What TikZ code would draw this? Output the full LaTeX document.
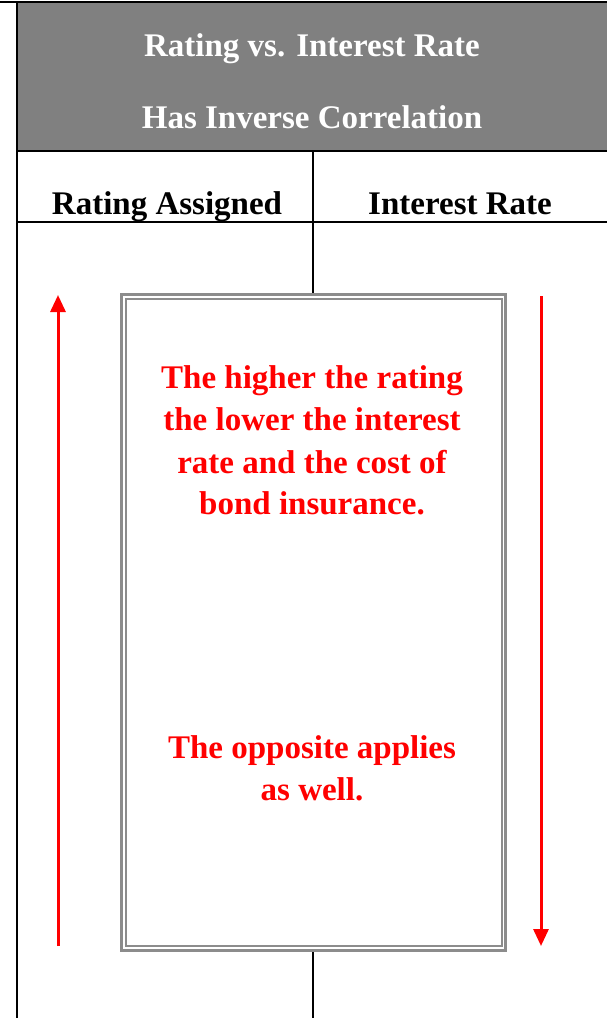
\documentclass[tikz,border=0pt]{standalone}
\usepackage{fontspec}
\setmainfont{Liberation Serif}
\usetikzlibrary{arrows.meta}
\definecolor{hdrgray}{HTML}{808080}
\definecolor{boxgray}{HTML}{8C8C8C}
\definecolor{txtred}{HTML}{FF0000}
\tikzset{
  rule/.style={line width=2pt, black},
  hdrtext/.style={font=\fontsize{33}{33}\selectfont\bfseries, text=white, inner sep=0pt, anchor=base},
  coltext/.style={font=\fontsize{33}{33}\selectfont\bfseries, text=black, inner sep=0pt, anchor=base},
  redtext/.style={font=\fontsize{33}{33}\selectfont\bfseries, text=txtred, inner sep=0pt, anchor=base},
  redarrow/.style={line width=3pt, txtred, -{Triangle[length=17pt,width=15pt]}},
}
\begin{document}
\begin{tikzpicture}[x=1pt,y=-1pt]
\useasboundingbox (0,0) rectangle (607,1018);
\fill[white] (0,0) rectangle (607,1018);
% header
\fill[hdrgray] (17,2) rectangle (607,151);
\draw[rule] (0,2) -- (607,2);
\draw[rule] (17,1) -- (17,1018);
\draw[rule] (17,151) -- (607,151);
\draw[rule] (17,222) -- (607,222);
\draw[rule] (313,151) -- (313,1018);
\node[hdrtext] (t1) at (312,56) {Rating vs. Interest Rate};
\node[hdrtext] (t2) at (312,128) {Has Inverse Correlation};
\node[coltext] (c1) at (167,214) {Rating Assigned};
\node[coltext] (c2) at (460,214) {Interest Rate};
% central box
\fill[white] (120,293) rectangle (507,952);
\draw[boxgray, line width=2.5pt] (121.5,294.5) rectangle (505.5,950.5);
\draw[boxgray, line width=2pt] (125.5,298.5) rectangle (501.5,945.5);
\node[redtext] (r1) at (312,388) {The higher the rating};
\node[redtext] (r2) at (312,430) {the lower the interest};
\node[redtext] (r3) at (312,473) {rate and the cost of};
\node[redtext] (r4) at (312,514) {bond insurance.};
\node[redtext] (r5) at (312,758) {The opposite applies};
\node[redtext] (r6) at (312,800) {as well.};
% arrows
\coordinate (la) at (58,946);
\coordinate (lb) at (58,295);
\coordinate (ra) at (541,296);
\coordinate (rb) at (541,946);
\draw[redarrow] (la) -- (lb);
\draw[redarrow] (ra) -- (rb);
\end{tikzpicture}
\end{document}
